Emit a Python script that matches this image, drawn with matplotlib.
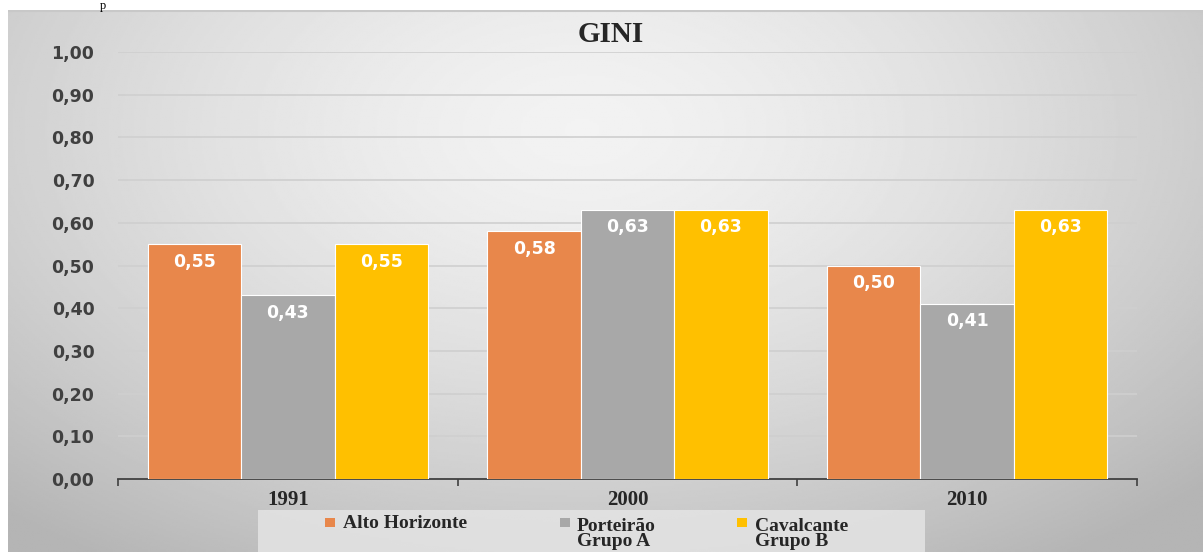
import numpy as np
import matplotlib
matplotlib.use('Agg')
import matplotlib.pyplot as plt
from matplotlib.patches import Rectangle

# data
years = ['1991', '2000', '2010']
series_names = ['Alto Horizonte', 'Porteirão\nGrupo A', 'Cavalcante\nGrupo B']
alto = [0.55, 0.58, 0.50]
porteirao = [0.43, 0.63, 0.41]
cavalcante = [0.55, 0.63, 0.63]
colors = ['#E8874B', '#A8A8A8', '#FFC000']

W, H = 1203, 552
fig = plt.figure(figsize=(W / 100, H / 100), dpi=100)
fig.patch.set_facecolor('white')

# gradient panel behind the chart
bg = fig.add_axes([8 / W, 0, 1 - 8 / W, (H - 10) / H])
yy, xx = np.mgrid[0:1:300j, 0:1:600j]
r = np.sqrt(((xx - 0.48) / 0.72) ** 2 + ((yy - 0.22) / 0.95) ** 2)
grad = 0.95 - 0.24 * np.clip(r, 0, 1) ** 1.5
bg.imshow(grad, cmap='gray', vmin=0, vmax=1, aspect='auto', extent=[0, 1, 1, 0])
bg.set_xlim(0, 1)
bg.set_ylim(1, 0)
bg.axis('off')
bg.axhline(0.001, color='#c8c8c8', lw=1.5)

# leftover text from the page above
fig.text(100 / W, 1 - 0.5 / H, 'p', family='Liberation Serif', fontsize=9,
         va='top', ha='left', color='black')

ax = fig.add_axes([118 / W, 73 / H, (1137 - 118) / W, (479 - 52) / H])
ax.patch.set_alpha(0)

x = np.arange(len(years))
bw = 0.275
for i, (vals, c) in enumerate(zip([alto, porteirao, cavalcante], colors)):
    bars = ax.bar(x + (i - 1) * bw, vals, width=bw, color=c, edgecolor='white',
                  linewidth=0.8, zorder=3)
    for b, v in zip(bars, vals):
        ax.annotate(f'{v:.2f}'.replace('.', ','),
                    (b.get_x() + b.get_width() / 2, v), xytext=(0, -12.5),
                    textcoords='offset points', ha='center', va='center',
                    color='white', fontsize=12.5, fontweight='bold', zorder=4)

ax.set_xlim(-0.5, 2.5)
ax.set_ylim(0, 1.0)
ax.set_yticks(np.arange(0, 1.01, 0.1))
ax.set_yticklabels([f'{v:.2f}'.replace('.', ',') for v in np.arange(0, 1.01, 0.1)],
                   fontsize=12.5, fontweight='bold', color='#404040')
ax.tick_params(axis='y', length=0, pad=17)
ax.grid(axis='y', color='#cfcfcf', linewidth=1.2, zorder=0)
ax.set_axisbelow(True)

ax.set_xticks([-0.5, 0.5, 1.5, 2.5])
ax.set_xticklabels([])
ax.tick_params(axis='x', which='major', length=5, width=1.2, color='#404040')
ax.set_xticks(x, minor=True)
ax.set_xticklabels(years, minor=True, family='Liberation Serif',
                   fontweight='bold', fontsize=15, color='#262626')
ax.tick_params(axis='x', which='minor', length=0, pad=8)

for s in ['top', 'right', 'left']:
    ax.spines[s].set_visible(False)
ax.spines['bottom'].set_color('#404040')
ax.spines['bottom'].set_linewidth(1.3)

fig.text(611 / W, 1 - 35 / H, 'GINI', family='Liberation Serif',
         fontweight='bold', fontsize=21, ha='center', va='center', color='#262626')

# legend box
fig.patches.append(Rectangle((258 / W, 0), (925 - 258) / W, (H - 510) / H,
                             transform=fig.transFigure, facecolor='#e4e4e4',
                             edgecolor='none', alpha=0.85, zorder=1))
sq_x = [325, 560, 737]
txt_x = [343, 577, 755]
for sx, tx, name, c in zip(sq_x, txt_x, series_names, colors):
    fig.patches.append(Rectangle((sx / W, 1 - 527 / H), 10 / W, 9 / H,
                                 transform=fig.transFigure, facecolor=c,
                                 edgecolor='none', zorder=2))
    if '\n' in name:
        fig.text(tx / W, 1.5 / H, name, family='Liberation Serif',
                 fontweight='bold', fontsize=14, ha='left', va='bottom',
                 color='#262626', linespacing=0.85)
    else:
        fig.text(tx / W, 1 - 528 / H, name, family='Liberation Serif',
                 fontweight='bold', fontsize=14, ha='left', va='baseline',
                 color='#262626')

fig.savefig('out.png', dpi=100)
